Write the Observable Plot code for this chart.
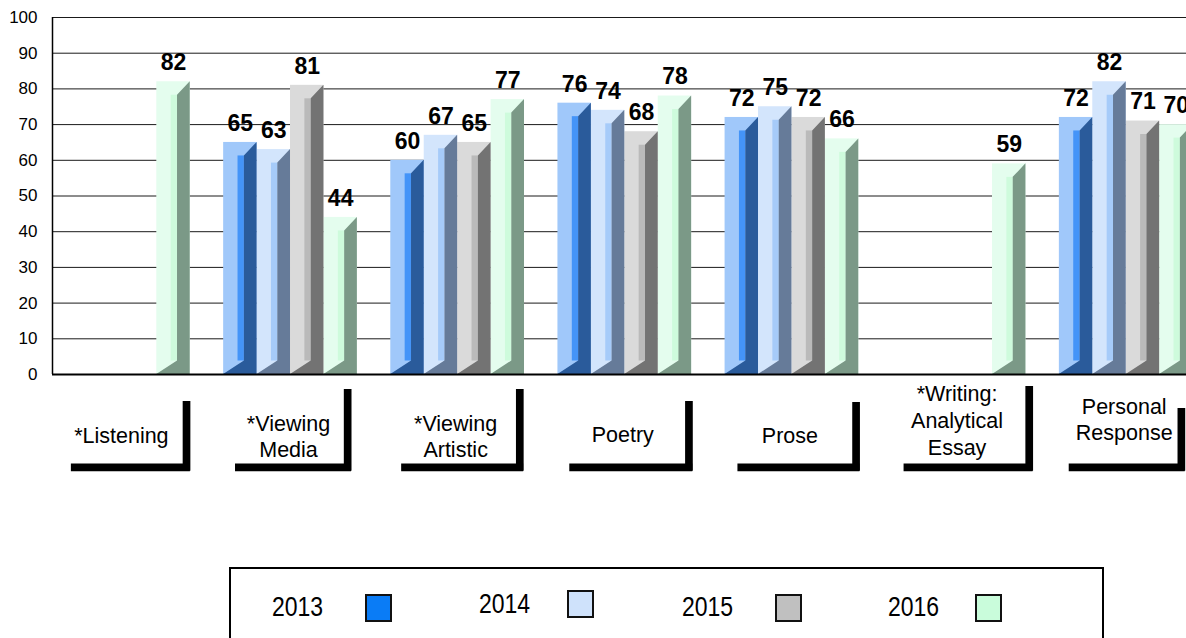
<!DOCTYPE html>
<html>
<head>
<meta charset="utf-8">
<script src="https://cdn.jsdelivr.net/npm/d3@7"></script>
<script src="https://cdn.jsdelivr.net/npm/@observablehq/plot@0.6"></script>
<style>
html, body { margin: 0; padding: 0; background: #fff; overflow: hidden; width: 1186px; height: 638px; }
#wrap { position: relative; width: 1186px; height: 638px; overflow: hidden; font-family: "Liberation Sans", Arial, sans-serif; }
#chart { position: absolute; left: 0; top: 0; width: 1226px; }
#chart svg { max-width: none !important; }
#legend { position: absolute; left: 229px; top: 567px; width: 871px; height: 100px; border: 2px solid #000; }
#legend .lbl { position: absolute; font-size: 23px; line-height: 28px; color: #000; transform: scaleY(1.18); transform-origin: left center; }
#legend .sw { position: absolute; box-sizing: border-box; border: 2.5px solid #111; }
</style>
</head>
<body>
<div id="wrap"><div id="chart"></div><div id="legend"></div></div>
<script>
// ---- data ----
const categories = ["*Listening", "*Viewing\nMedia", "*Viewing\nArtistic", "Poetry", "Prose", "*Writing:\nAnalytical\nEssay", "Personal\nResponse"];
const years = ["2013", "2014", "2015", "2016"];
const values2013 = [null, 65, 60, 76, 72, null, 72];
const values2014 = [null, 63, 67, 74, 75, null, 82];
const values2015 = [null, 81, 65, 68, 72, null, 71];
const values2016 = [82, 44, 77, 78, 66, 59, 70];
const yTicks = [0, 10, 20, 30, 40, 50, 60, 70, 80, 90, 100];

// ---- styles ----
const faceColors = ["#a0c8fa", "#d3e5fc", "#dadada", "#e4fdee"];
const stripColors = ["#4494f8", "#a6cbf9", "#bababa", "#cefbdc"];
const sideColors = ["#2a5b9b", "#667b99", "#737373", "#7b9987"];
const legendColors = ["#0a7cf6", "#cfe2fb", "#c0c0c0", "#c9fcdb"];
// category label layout (pixel offsets relative to the axis baseline / group center)
const labelLayout = [
  {top: 27, left: -52, right: 67, mid: 60},
  {top: 15, left: -55, right: 61, mid: 61},
  {top: 15, left: -56, right: 66, mid: 61},
  {top: 27, left: -55, right: 68, mid: 59},
  {top: 28, left: -54, right: 68, mid: 60},
  {top: 12, left: -55, right: 74, mid: 45},
  {top: 34, left: -57, right: 59, mid: 44}
];

const series = [values2013, values2014, values2015, values2016];
const W = 0.2;                 // bar width in group units
const xMin = -0.024, xMax = 7.0;
const width = 1226, marginLeft = 52, marginRight = 0;
const marginTop = 17, plotBottom = 374, height = 480;
const pxX = (width - marginLeft - marginRight) / (xMax - xMin); // px per x unit
const k = (plotBottom - marginTop) / 100;                       // px per y unit
const off = 13.5 / k;

const bars = [];
categories.forEach((c, i) => years.forEach((yr, j) => {
  const v = series[j][i];
  if (v == null) return;
  bars.push({i, j, v, a: i + W * j, key: `${i}-${j}`});
}));

const sideRows = [];
for (const b of bars) {
  const xm = b.a + 0.62 * W;
  const fill = sideColors[b.j];
  sideRows.push({key: b.key, fill, x: b.a, y1: 0, y2: 0});
  sideRows.push({key: b.key, fill, x: xm, y1: 0, y2: off});
  sideRows.push({key: b.key, fill, x: xm, y1: 0, y2: b.v - off});
  sideRows.push({key: b.key, fill, x: b.a + W, y1: 0, y2: b.v});
}

const catRows = categories.map((c, i) => ({c, i, center: i + 2 * W, L: labelLayout[i]}));

const chart = Plot.plot({
  width, height, marginLeft, marginRight, marginTop,
  marginBottom: height - plotBottom,
  style: {fontFamily: "'Liberation Sans', Arial, sans-serif", background: "#fff", color: "#000", overflow: "visible", maxWidth: "none"},
  x: {domain: [xMin, xMax], axis: null},
  y: {domain: [0, 100], axis: null},
  marks: [
    Plot.ruleY(yTicks.filter(t => t > 0), {stroke: "#1a1a1a", strokeWidth: 1}),
    Plot.axisY(yTicks, {tickSize: 0, tickPadding: 15, fontSize: 17, label: null}),
    // bars: front face, inner strip, side
    Plot.rect(bars, {x1: "a", x2: d => d.a + W, y1: 0, y2: "v", fill: d => faceColors[d.j]}),
    Plot.rect(bars, {x1: d => d.a + 0.43 * W, x2: d => d.a + 0.62 * W, y1: off, y2: d => d.v - off, fill: d => stripColors[d.j]}),
    Plot.areaY(sideRows, {x: "x", y1: "y1", y2: "y2", z: "key", fill: "fill", curve: "linear"}),
    Plot.ruleY([0], {stroke: "#000", strokeWidth: 2}),
    Plot.ruleX([xMin], {y1: 0, y2: 100, stroke: "#000", strokeWidth: 1.5}),
    // value labels
    Plot.text(bars, {x: d => d.a + W / 2, y: "v", text: d => String(d.v), dy: -19, fontWeight: "bold", fontSize: 23, lineAnchor: "middle", fill: "#000"}),
    // category label brackets
    Plot.ruleY(catRows, {y: -(466.9 - plotBottom) / k, x1: d => d.center + d.L.left / pxX, x2: d => d.center + d.L.right / pxX, stroke: "#000", strokeWidth: 7.7}),
    Plot.ruleX(catRows, {x: d => d.center + (d.L.right - 3.85) / pxX, y1: -(470.7 - plotBottom) / k, y2: d => -d.L.top / k, stroke: "#000", strokeWidth: 7.7}),
    // category labels
    Plot.text(catRows, {x: d => d.center - 2 / pxX, y: d => -d.L.mid / k, text: "c", fontSize: 21.5, lineHeight: 1.24, lineAnchor: "middle", fill: "#000"})
  ]
});
document.getElementById("chart").appendChild(chart);

// legend
const legend = document.getElementById("legend");
const legendPos = [
  {text: 41, sw: 134, top: 25, textTop: 24},
  {text: 248, sw: 336, top: 21, textTop: 21},
  {text: 451, sw: 544, top: 25, textTop: 24},
  {text: 657, sw: 744, top: 25, textTop: 24}
];
years.forEach((yr, j) => {
  const p = legendPos[j];
  const t = document.createElement("div");
  t.className = "lbl";
  t.textContent = yr;
  t.style.left = p.text + "px";
  t.style.top = p.textTop + "px";
  legend.appendChild(t);
  const s = document.createElement("div");
  s.className = "sw";
  s.style.left = p.sw + "px";
  s.style.top = p.top + "px";
  s.style.width = "27px";
  s.style.height = "28px";
  s.style.background = legendColors[j];
  legend.appendChild(s);
});
</script>
</body>
</html>
